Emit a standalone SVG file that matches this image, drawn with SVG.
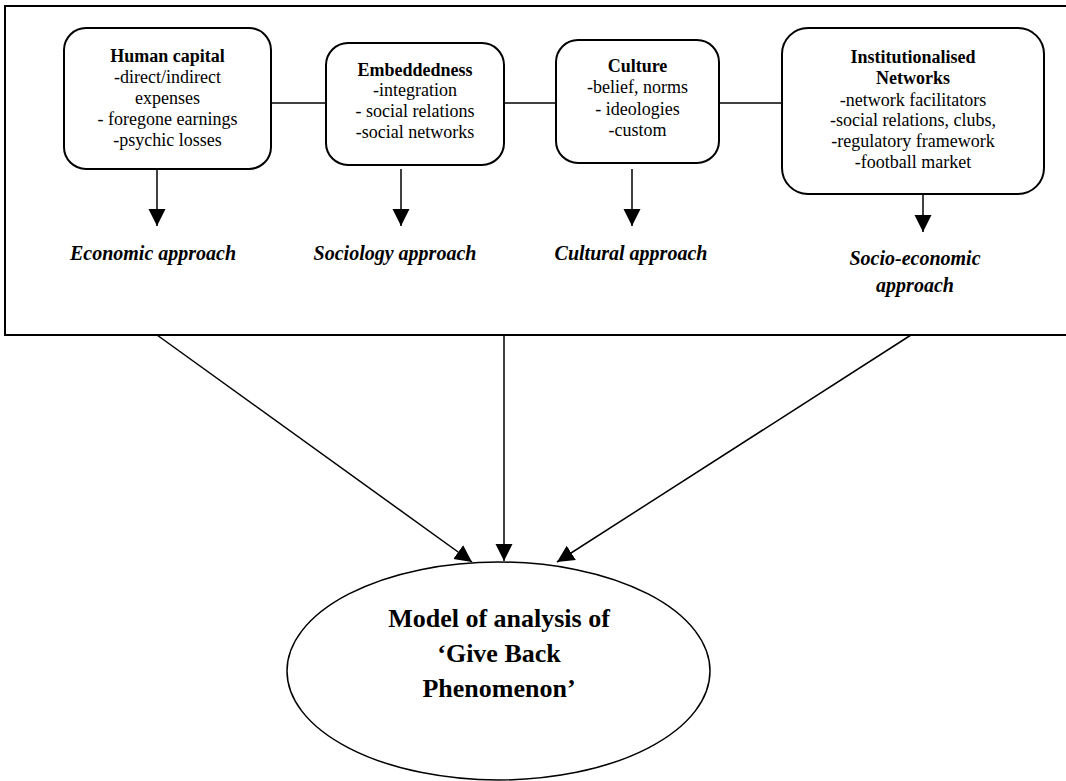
<svg xmlns="http://www.w3.org/2000/svg" width="1066" height="781" viewBox="0 0 1066 781">
<style>
.frame{fill:none;stroke:#000;stroke-width:2}
.box{fill:#fff;stroke:#000;stroke-width:2}
.conn{fill:none;stroke:#000;stroke-width:1.5}
.t{font-family:"Liberation Serif","Times New Roman",serif;font-size:18px;fill:#000;text-anchor:middle}
.b{font-weight:bold}
.ap{font-family:"Liberation Serif","Times New Roman",serif;font-size:20px;font-weight:bold;font-style:italic;fill:#000;text-anchor:middle}
.big{font-family:"Liberation Serif","Times New Roman",serif;font-size:26px;font-weight:bold;fill:#000;text-anchor:middle}
</style>
<defs>
<marker id="ah" markerUnits="userSpaceOnUse" markerWidth="18" markerHeight="18" viewBox="0 0 18 18" refX="17" refY="9" orient="auto">
<path d="M0,0.5 L17,9 L0,17.5 Z" fill="#000"/>
</marker>
</defs>
<rect class="frame" x="5" y="6" width="1070" height="329"/>
<g id="connectors">
<line class="conn" x1="271" y1="103" x2="326" y2="103"/>
<line class="conn" x1="504" y1="103" x2="556" y2="103"/>
<line class="conn" x1="719" y1="103" x2="782" y2="103"/>
<line class="conn" x1="157" y1="169" x2="157" y2="226" marker-end="url(#ah)"/>
<line class="conn" x1="401" y1="169" x2="401" y2="226" marker-end="url(#ah)"/>
<line class="conn" x1="632" y1="169" x2="632" y2="226" marker-end="url(#ah)"/>
<line class="conn" x1="923" y1="194" x2="923" y2="232" marker-end="url(#ah)"/>
<line class="conn" x1="157" y1="335" x2="472" y2="562" marker-end="url(#ah)"/>
<line class="conn" x1="504" y1="335" x2="504" y2="561" marker-end="url(#ah)"/>
<line class="conn" x1="911" y1="335" x2="557" y2="562" marker-end="url(#ah)"/>
</g>
<g id="human-capital">
<rect class="box" x="64" y="28" width="207" height="141" rx="22"/>
<text class="t b" x="167.5" y="62">Human capital</text>
<text class="t" x="167.5" y="83">-direct/indirect</text>
<text class="t" x="167.5" y="104">expenses</text>
<text class="t" x="167.5" y="125">- foregone earnings</text>
<text class="t" x="167.5" y="146">-psychic losses</text>
</g>
<g id="embeddedness">
<rect class="box" x="326" y="43" width="178" height="122" rx="22"/>
<text class="t b" x="415" y="76">Embeddedness</text>
<text class="t" x="415" y="96">-integration</text>
<text class="t" x="415" y="117">- social relations</text>
<text class="t" x="415" y="138">-social networks</text>
</g>
<g id="culture">
<rect class="box" x="556" y="40" width="163" height="123" rx="22"/>
<text class="t b" x="637.5" y="72">Culture</text>
<text class="t" x="637.5" y="93">-belief, norms</text>
<text class="t" x="637.5" y="115">- ideologies</text>
<text class="t" x="637.5" y="136">-custom</text>
</g>
<g id="institutionalised-networks">
<rect class="box" x="782" y="28" width="262" height="166" rx="26"/>
<text class="t b" x="913" y="63">Institutionalised</text>
<text class="t b" x="913" y="84">Networks</text>
<text class="t" x="913" y="106">-network facilitators</text>
<text class="t" x="913" y="126">-social relations, clubs,</text>
<text class="t" x="913" y="147">-regulatory framework</text>
<text class="t" x="913" y="168">-football market</text>
</g>
<g id="economic-approach"><text class="ap" x="153" y="260">Economic approach</text></g>
<g id="sociology-approach"><text class="ap" x="395" y="260">Sociology approach</text></g>
<g id="cultural-approach"><text class="ap" x="631" y="260">Cultural approach</text></g>
<g id="socio-economic-approach">
<text class="ap" x="915" y="265">Socio-economic</text>
<text class="ap" x="915" y="292">approach</text>
</g>
<g id="model">
<ellipse cx="498.5" cy="671" rx="211.5" ry="109" fill="#fff" stroke="#000" stroke-width="1.5"/>
<text class="big" x="499" y="627">Model of analysis of</text>
<text class="big" x="499" y="662">‘Give Back</text>
<text class="big" x="499" y="697">Phenomenon’</text>
</g>
</svg>
